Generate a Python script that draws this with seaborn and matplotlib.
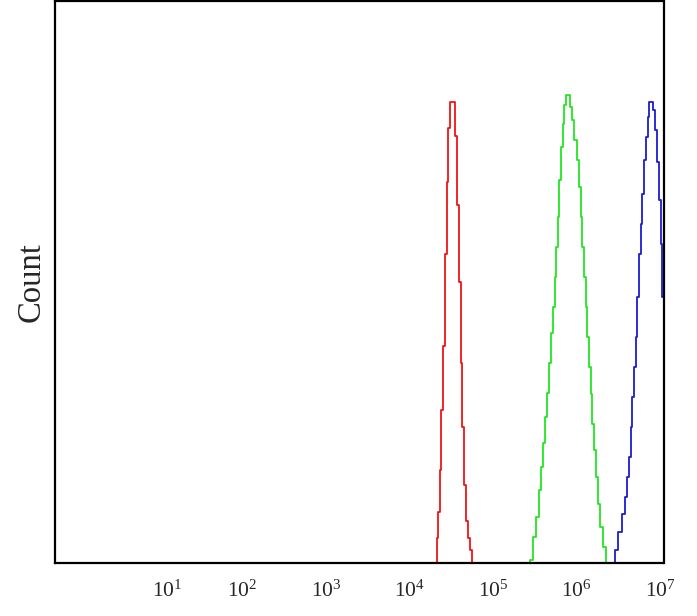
import pandas as pd
import matplotlib
matplotlib.use("Agg")
import matplotlib.pyplot as plt
import seaborn as sns

# histogram channels on log10 intensity, counts
red_x = [4.317, 4.337, 4.357, 4.377, 4.389, 4.422, 4.437, 4.457, 4.477, 4.497,
         4.545, 4.557, 4.581, 4.605, 4.625, 4.641, 4.665, 4.689, 4.713, 4.737, 4.760]
red_y = [0, 5.0, 10.2, 18.6, 30.6, 43.4, 61.8, 76.2, 87.0, 92.2,
         92.2, 85.4, 71.6, 56.2, 40.0, 27.2, 15.6, 8.4, 5.0, 2.6, 0]

green_x = [5.423, 5.463, 5.503, 5.531, 5.563, 5.590, 5.611, 5.635, 5.662, 5.683,
           5.710, 5.731, 5.751, 5.770, 5.787, 5.802, 5.823, 5.842, 5.862, 5.883,
           5.902, 5.931, 5.962, 5.990, 6.014, 6.042, 6.062, 6.081, 6.102, 6.122,
           6.141, 6.162, 6.182, 6.201, 6.222, 6.242, 6.269, 6.302, 6.329, 6.369]
green_y = [0, 0.6, 5.3, 9.3, 14.6, 19.3, 24.0, 29.3, 34.0, 40.0,
           46.0, 51.3, 57.3, 63.3, 69.3, 76.6, 83.3, 87.9, 91.6, 93.6,
           93.6, 91.3, 88.6, 84.6, 80.6, 75.3, 69.3, 63.3, 57.3, 51.3,
           45.3, 39.3, 33.9, 27.9, 22.6, 17.3, 11.9, 7.3, 3.3, 0]

blue_x = [6.434, 6.481, 6.521, 6.560, 6.601, 6.620, 6.641, 6.661, 6.680, 6.701,
          6.721, 6.740, 6.760, 6.781, 6.800, 6.820, 6.841, 6.860, 6.880, 6.908,
          6.932, 6.960, 6.980, 7.000, 7.020, 7.032]
blue_y = [0, 2.6, 6.3, 9.9, 13.3, 17.3, 21.3, 27.3, 33.3, 39.3,
          45.3, 53.3, 61.9, 67.9, 73.9, 80.6, 85.3, 89.3, 92.3, 92.3,
          90.6, 86.6, 80.3, 72.6, 63.9, 53.3]

tick_pos = [1.1, 2, 3, 4, 5, 6, 7]
tick_labels = [r"$10^{1}$", r"$10^{2}$", r"$10^{3}$", r"$10^{4}$",
               r"$10^{5}$", r"$10^{6}$", r"$10^{7}$"]

df = pd.concat([
    pd.DataFrame({"log_int": red_x, "Count": red_y, "sample": "red"}),
    pd.DataFrame({"log_int": green_x, "Count": green_y, "sample": "green"}),
    pd.DataFrame({"log_int": blue_x, "Count": blue_y, "sample": "blue"}),
])

sns.set_style("white")
plt.rcParams["font.family"] = ["Liberation Serif", "DejaVu Serif"]
plt.rcParams["mathtext.fontset"] = "custom"
plt.rcParams["mathtext.rm"] = "Liberation Serif"
plt.rcParams["mathtext.it"] = "Liberation Serif:italic"

fig = plt.figure(figsize=(6.97, 6.16), dpi=100)
ax = fig.add_axes([55 / 697, 53 / 616, 608.5 / 697, 562 / 616])

sns.lineplot(data=df, x="log_int", y="Count", hue="sample",
             palette={"red": "#ee1515", "green": "#22e622", "blue": "#1c1ccc"},
             estimator=None, errorbar=None, legend=False,
             drawstyle="steps-mid", linewidth=1.3, ax=ax)

ax.set_xlim(-0.245, 7.042)
ax.set_ylim(0, 112.4)
ax.set_xticks(tick_pos)
ax.set_xticklabels(tick_labels, fontsize=15.5)
ax.set_yticks([])
ax.tick_params(axis="x", length=0, pad=13)
ax.set_xlabel("")
ax.set_ylabel("Count", fontsize=23.5, labelpad=6)
for s in ax.spines.values():
    s.set_visible(True)
    s.set_color("black")
    s.set_linewidth(1.6)

fig.savefig("out.png", dpi=100)
